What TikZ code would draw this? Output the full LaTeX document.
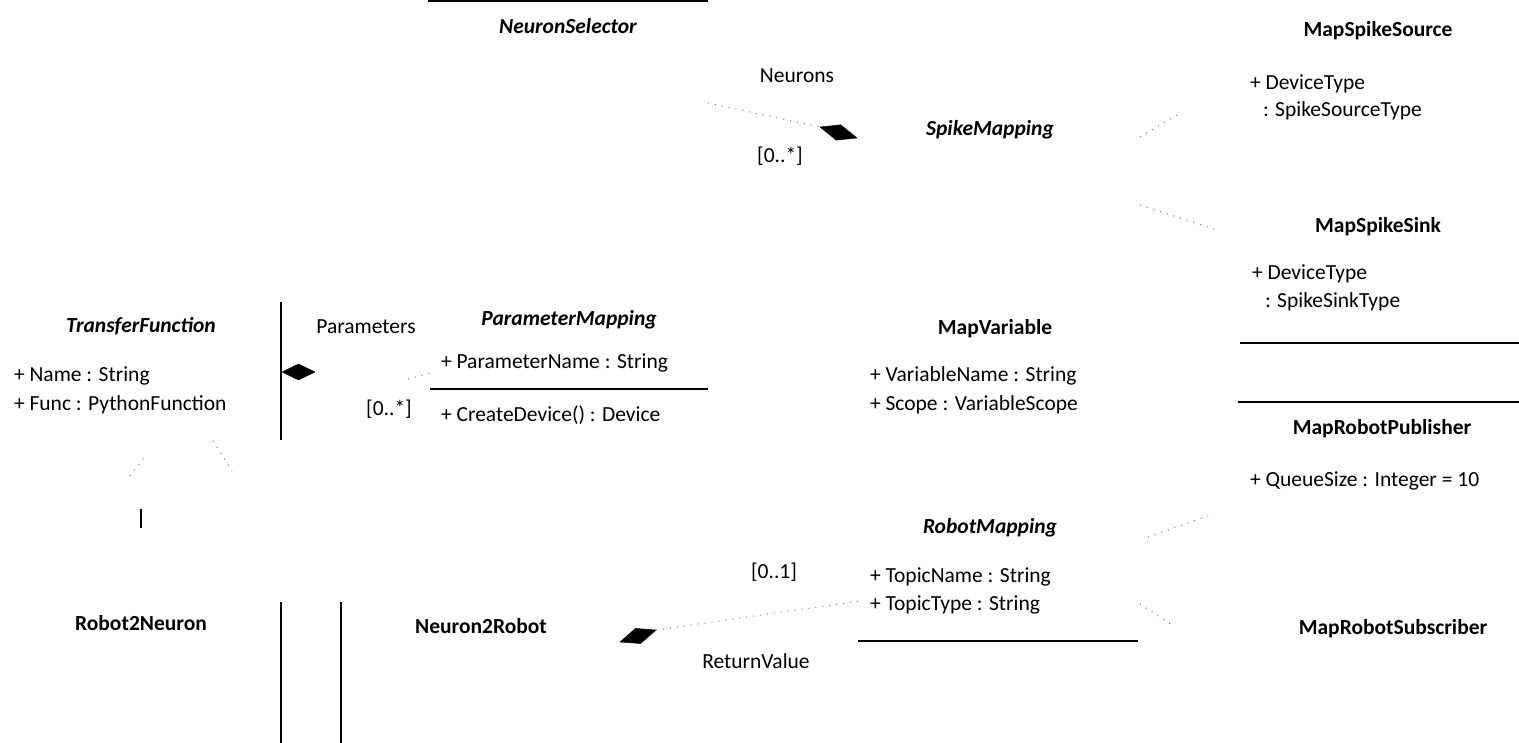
\documentclass[tikz,border=0pt]{standalone}
\usepackage{fontspec}
\setmainfont{Carlito}
\usetikzlibrary{calc}
\begin{document}
\begin{tikzpicture}[x=1pt,y=-1pt,
  base/.style={font=\fontsize{21.5}{24}\selectfont, inner sep=0pt, outer sep=0pt},
  cname/.style={base, font=\fontsize{21.5}{24}\selectfont\bfseries, anchor=base},
  aname/.style={base, font=\fontsize{21.5}{24}\selectfont\bfseries\itshape, anchor=base},
  attr/.style={base, anchor=base west},
  lbl/.style={base, anchor=base},
  edge/.style={line width=1.2pt, black},
  faint/.style={line width=1pt, black!55, dash pattern=on 1pt off 6pt},
  comp/.style={fill=black, draw=black, line width=0.4pt, line join=miter}]
\useasboundingbox (0,0) rectangle (1519,743);

% ---- class names ----
\node[aname] (nsel) at (568,34) {NeuronSelector};
\node[aname] (spm)  at (990,136) {SpikeMapping};
\node[cname] (mss)  at (1378,37) {MapSpikeSource};
\node[cname] (msk)  at (1378,233) {MapSpikeSink};
\node[aname] (tf)   at (141,333) {TransferFunction};
\node[aname] (pm)   at (569,326) {ParameterMapping};
\node[cname] (mv)   at (995,335) {MapVariable};
\node[cname] (mrp)  at (1382,434) {MapRobotPublisher};
\node[aname] (rm)   at (990,533) {RobotMapping};
\node[cname] (r2n)  at (141,630) {Robot2Neuron};
\node[cname] (n2r)  at (481,633) {Neuron2Robot};
\node[cname] (mrs)  at (1393,634) {MapRobotSubscriber};

% ---- attributes ----
\node[attr] (mssa1) at (1250,90)  {+ DeviceType};
\node[attr] (mssa2) at (1263,117) {: SpikeSourceType};
\node[attr] (mska1) at (1252,280) {+ DeviceType};
\node[attr] (mska2) at (1265,308) {: SpikeSinkType};
\node[attr] (tfa1)  at (14,382)   {+ Name : String};
\node[attr] (tfa2)  at (14,410)   {+ Func : PythonFunction};
\node[attr] (pma1)  at (441,369)  {+ ParameterName : String};
\node[attr] (pmo1)  at (441,421)  {+ CreateDevice() : Device};
\node[attr] (mva1)  at (870,382)  {+ VariableName : String};
\node[attr] (mva2)  at (870,410)  {+ Scope : VariableScope};
\node[attr] (mrpa1) at (1250,486) {+ QueueSize : Integer = 10};
\node[attr] (rma1)  at (870,582)  {+ TopicName : String};
\node[attr] (rma2)  at (870,610)  {+ TopicType : String};

% ---- association labels ----
\node[lbl] (lneu)  at (797,83)  {Neurons};
\node[lbl] (mneu)  at (780,163) {[0..*]};
\node[lbl] (lpar)  at (366,334) {Parameters};
\node[lbl] (mpar)  at (389,415) {[0..*]};
\node[lbl] (mret)  at (774,578) {[0..1]};
\node[lbl] (lret)  at (756,668) {ReturnValue};

% ---- visible solid box edges ----
\coordinate (e1a) at (428,1);    \coordinate (e1b) at (708,1);
\coordinate (e2a) at (281,302);  \coordinate (e2b) at (281,440);
\coordinate (e3a) at (430,389);  \coordinate (e3b) at (708,389);
\coordinate (e4a) at (141,509);  \coordinate (e4b) at (141,528);
\coordinate (e5a) at (281,602);  \coordinate (e5b) at (281,743);
\coordinate (e6a) at (341,602);  \coordinate (e6b) at (341,743);
\coordinate (e7a) at (858,641);  \coordinate (e7b) at (1138,641);
\coordinate (e8a) at (1240,343); \coordinate (e8b) at (1519,343);
\coordinate (e9a) at (1238,402); \coordinate (e9b) at (1519,402);
\foreach \i in {1,...,9} \draw[edge] (e\i a) -- (e\i b);

% ---- composition diamonds (tip A at the connector, tip B at the owner) ----
\coordinate (dparA) at (315,372); \coordinate (dparB) at (282,372);
\coordinate (dneuA) at (820,127); \coordinate (dneuB) at (857,138);
\coordinate (dretA) at (656,630); \coordinate (dretB) at (620,642);
\foreach \d/\w in {dpar/8, dneu/8, dret/8} {
  \fill[comp] (\d A) -- ($($(\d A)!0.5!(\d B)$)!\w pt!90:(\d B)$) -- (\d B)
              -- ($($(\d A)!0.5!(\d B)$)!\w pt!-90:(\d B)$) -- cycle;
}

% ---- faint connector fragments ----
\coordinate (fneu) at (708,103);
\coordinate (fpa)  at (408,379);  \coordinate (fpb) at (430,373);
\coordinate (fret) at (860,601);
\coordinate (fs1a) at (1140,137); \coordinate (fs1b) at (1177,115);
\coordinate (fs2a) at (1140,205); \coordinate (fs2b) at (1217,230);
\coordinate (fr1a) at (1148,537); \coordinate (fr1b) at (1208,516);
\coordinate (fr2a) at (1140,604); \coordinate (fr2b) at (1172,625);
\coordinate (ft1a) at (130,476);  \coordinate (ft1b) at (146,455);
\coordinate (ft2a) at (213,441);  \coordinate (ft2b) at (232,471);
\draw[faint] (fneu) -- (dneuA);
\draw[faint] (fpa) -- (fpb);
\draw[faint] (dretA) -- (fret);
\draw[faint] (fs1a) -- (fs1b);
\draw[faint] (fs2a) -- (fs2b);
\draw[faint] (fr1a) -- (fr1b);
\draw[faint] (fr2a) -- (fr2b);
\draw[faint] (ft1a) -- (ft1b);
\draw[faint] (ft2a) -- (ft2b);
\end{tikzpicture}
\end{document}
